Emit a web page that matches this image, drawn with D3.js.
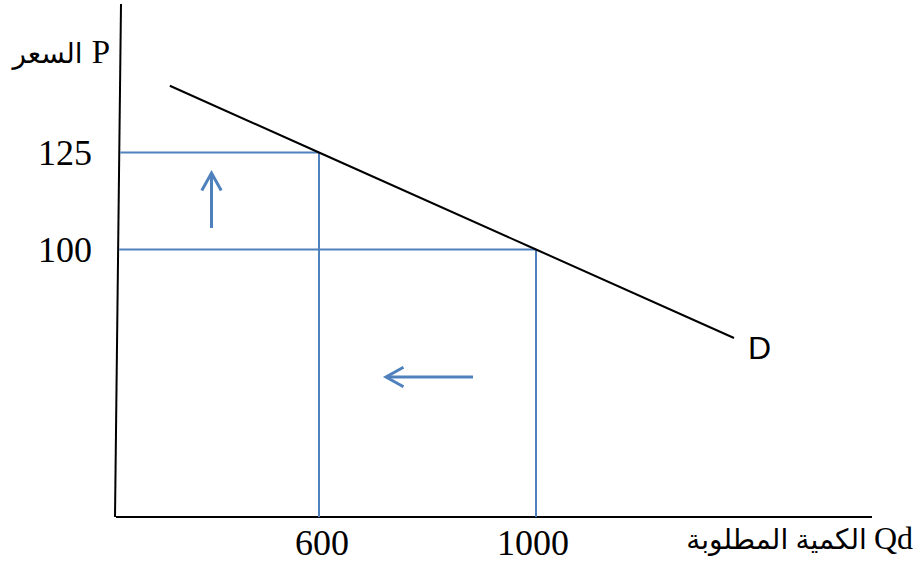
<!DOCTYPE html>
<html>
<head>
<meta charset="utf-8">
<script src="https://cdn.jsdelivr.net/npm/d3@7"></script>
<style>
  html, body { margin: 0; padding: 0; background: #fff; }
  svg { display: block; }
  .serif { font-family: "Liberation Serif", "Times New Roman", "DejaVu Serif", serif; }
  .arabic { font-family: "Noto Sans", "DejaVu Sans", sans-serif; }
</style>
</head>
<body>
<svg id="chart" width="917" height="567"></svg>
<script>
// Demand schedule: quantity demanded (Qd) against price (P)
const demandQ = [325, 600, 1000, 1365];
const demandP = [142.2, 125, 100, 77.2];

// Marked points on the curve and their guide lines
const pointQ = [600, 1000];
const pointP = [125, 100];

// Tick labels
const xTicks = ["600", "1000"];
const yTicks = ["125", "100"];

// Axis titles: [Arabic word, symbol]
const yTitle = ["السعر", "P"];
const xTitle = ["الكمية المطلوبة", "Qd"];
const curveLabel = "D";

const width = 917, height = 567;
const frame = { left: 116, top: 4, bottom: 517, right: 872, leanTop: 5 };

const x = d3.scaleLinear().domain([600, 1000]).range([319, 536]);
const y = d3.scaleLinear().domain([100, 125]).range([249.5, 152.5]);

const svg = d3.select("#chart");
const blue = "#4f81bd";

// Axes (drawn as a plain frame, the price axis leans slightly)
svg.append("line")
  .attr("x1", frame.left + frame.leanTop).attr("y1", frame.top)
  .attr("x2", frame.left - 1).attr("y2", frame.bottom)
  .attr("stroke", "#000").attr("stroke-width", 2);
svg.append("line")
  .attr("x1", frame.left).attr("y1", frame.bottom)
  .attr("x2", frame.right).attr("y2", frame.bottom)
  .attr("stroke", "#000").attr("stroke-width", 2);

// Guide lines from each marked point to the axes
const yAxisX = p => {
  const py = y(p);
  return frame.left - 1 + (frame.leanTop + 1) * (frame.bottom - py) / (frame.bottom - frame.top);
};
pointQ.forEach((q, i) => {
  const p = pointP[i];
  svg.append("line")
    .attr("x1", yAxisX(p) + 1).attr("y1", y(p))
    .attr("x2", x(q)).attr("y2", y(p))
    .attr("stroke", blue).attr("stroke-width", 2);
  svg.append("line")
    .attr("x1", x(q)).attr("y1", y(p))
    .attr("x2", x(q)).attr("y2", frame.bottom)
    .attr("stroke", blue).attr("stroke-width", 2);
});

// Demand curve
const line = d3.line().x((d, i) => x(demandQ[i])).y(d => y(d));
svg.append("path")
  .datum(demandP)
  .attr("d", line)
  .attr("fill", "none")
  .attr("stroke", "#000")
  .attr("stroke-width", 2);

// Direction arrows: price rises, quantity demanded falls
function arrow(x1, y1, x2, y2) {
  const g = svg.append("g").attr("stroke", blue).attr("stroke-width", 3)
    .attr("fill", "none").attr("stroke-linecap", "butt");
  g.append("line").attr("x1", x1).attr("y1", y1).attr("x2", x2).attr("y2", y2);
  const ang = Math.atan2(y2 - y1, x2 - x1);
  const len = 20, spread = Math.PI / 6.2;
  const pts = [
    [x2 - len * Math.cos(ang - spread), y2 - len * Math.sin(ang - spread)],
    [x2, y2],
    [x2 - len * Math.cos(ang + spread), y2 - len * Math.sin(ang + spread)]
  ];
  g.append("path").attr("d", d3.line()(pts)).attr("stroke-linejoin", "miter");
}
arrow(211.5, 228, 211.5, 173);
arrow(473, 377, 386, 377);

// Tick labels
svg.selectAll(".ytick").data(yTicks).join("text")
  .attr("class", "serif")
  .attr("x", 92)
  .attr("y", (d, i) => y(pointP[i]) + 12.5)
  .attr("text-anchor", "end")
  .attr("font-size", 36)
  .text(d => d);
svg.selectAll(".xtick").data(xTicks).join("text")
  .attr("class", "serif")
  .attr("x", (d, i) => x(pointQ[i]) + (i === 0 ? 3 : -3))
  .attr("y", 555)
  .attr("text-anchor", "middle")
  .attr("font-size", 36)
  .text(d => d);

// Axis titles: symbol on the right, Arabic word to its left
function title(parts, xEnd, yBase, size, arSize, gap) {
  const sym = svg.append("text").attr("class", "serif")
    .attr("x", xEnd).attr("y", yBase)
    .attr("text-anchor", "end")
    .attr("font-size", size)
    .text(parts[1]);
  const w = sym.node().getComputedTextLength();
  svg.append("text").attr("class", "arabic")
    .attr("x", xEnd - w - gap).attr("y", yBase)
    .attr("text-anchor", "end")
    .attr("font-size", arSize)
    .text(parts[0]);
}
title(yTitle, 110, 63, 33, 28, 9);
title(xTitle, 913, 549, 32, 28, 7);

// Curve label
svg.append("text")
  .attr("x", 748).attr("y", 359)
  .attr("font-family", "Liberation Sans, Arial, sans-serif")
  .attr("font-size", 32)
  .text(curveLabel);
</script>
</body>
</html>
